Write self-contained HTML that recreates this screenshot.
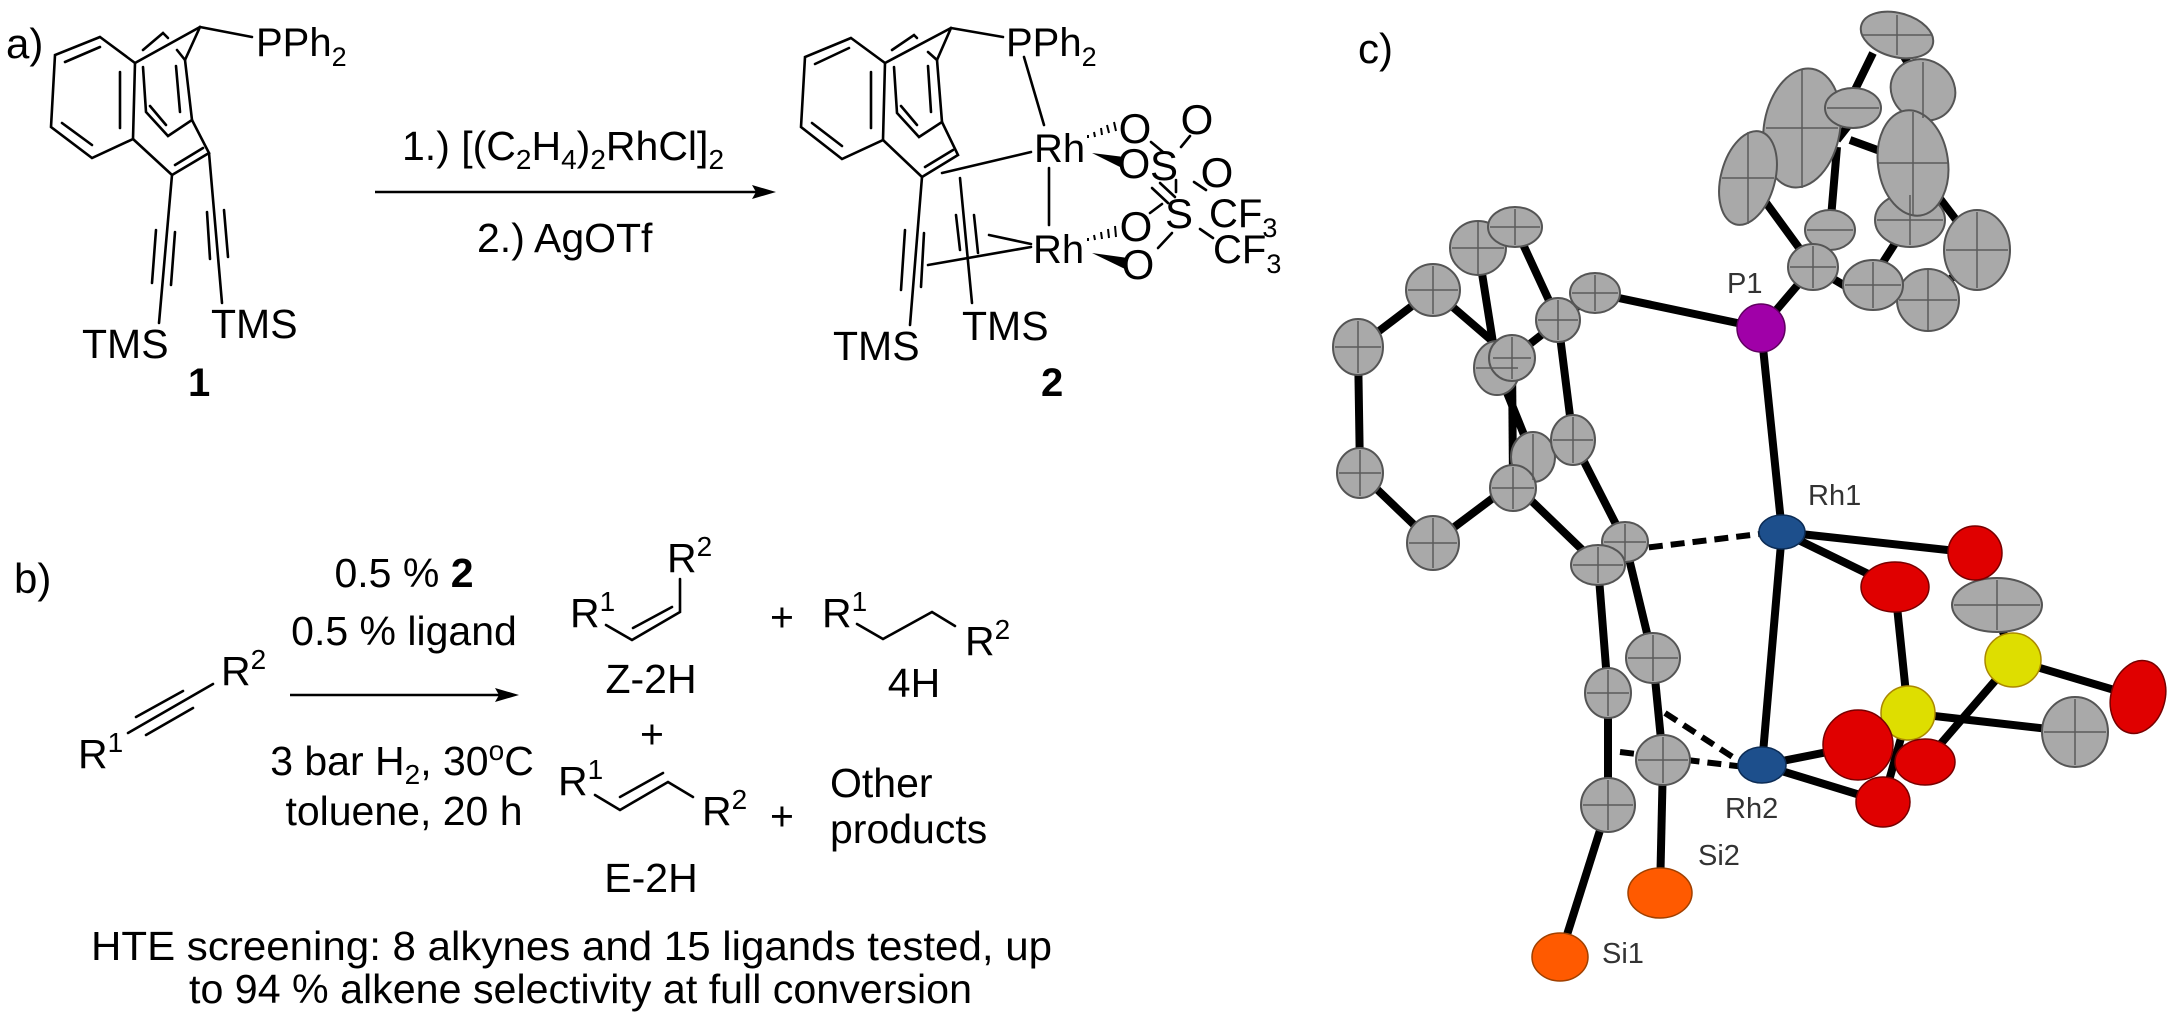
<!DOCTYPE html>
<html><head><meta charset="utf-8">
<style>
html,body{margin:0;padding:0;background:#fff;}
svg{display:block;}
text{font-family:"Liberation Sans",Arial,sans-serif;fill:#000;}
.b{stroke:#000;stroke-width:2.6;fill:none;stroke-linecap:round;}
.ob{stroke:#000;stroke-width:8;fill:none;}
.g{fill:#a9a9a9;stroke:#555;stroke-width:2;}
.x{stroke:#5a5a5a;stroke-width:1.5;fill:none;}
.red{fill:#e00000;stroke:#700;stroke-width:1.5;}
.yel{fill:#dede00;stroke:#aa8800;stroke-width:1.5;}
.org{fill:#ff5a00;stroke:#a04000;stroke-width:1.5;}
.blu{fill:#1d4f8c;stroke:#0c2c55;stroke-width:1.5;}
.lab{font-size:29px;fill:#333;}
</style></head>
<body>
<svg width="2176" height="1018" viewBox="0 0 2176 1018" xmlns="http://www.w3.org/2000/svg">
<text x="6" y="58" font-size="42">a)</text>
<g class="b">
<polyline points="100,37 55,55 51,127 92,158 133,139 135,63 100,37"/>
<line x1="65" y1="62" x2="100" y2="47"/>
<line x1="120" y1="72" x2="120" y2="128"/>
<line x1="62" y1="123" x2="92" y2="145"/>
<line x1="135" y1="63" x2="200" y2="27"/>
<polyline points="200,27 185,60 192,120 168,136 146,112 143,67"/>
<polyline points="143,50 163,33 168,38"/>
<line x1="177" y1="50" x2="185" y2="60"/>
<line x1="176" y1="66" x2="180" y2="112"/>
<line x1="150" y1="106" x2="166" y2="125"/>
<line x1="200" y1="27" x2="252" y2="37"/>
<polyline points="133,139 172,175 209,153 192,120"/>
<line x1="175" y1="165" x2="203" y2="148"/>
<line x1="172" y1="175" x2="159" y2="323"/>
<line x1="156" y1="230" x2="152" y2="283"/>
<line x1="175" y1="232" x2="171" y2="285"/>
<line x1="209" y1="153" x2="222" y2="303"/>
<line x1="207" y1="212" x2="210" y2="259"/>
<line x1="224" y1="210" x2="228" y2="257"/>
</g>
<text x="256" y="56" font-size="40">PPh<tspan font-size="27" dy="10">2</tspan></text>
<text x="82" y="358" font-size="41">TMS</text>
<text x="211" y="338" font-size="41">TMS</text>
<text x="188" y="396" font-size="40" font-weight="bold">1</text>

<text x="402" y="160" font-size="41">1.) [(C<tspan font-size="28" dy="9">2</tspan><tspan dy="-9">H</tspan><tspan font-size="28" dy="9">4</tspan><tspan dy="-9">)</tspan><tspan font-size="28" dy="9">2</tspan><tspan dy="-9">RhCl]</tspan><tspan font-size="28" dy="9">2</tspan></text>
<line x1="375" y1="192" x2="758" y2="192" stroke="#000" stroke-width="2.6"/>
<polygon points="776,192 752,185 756,192 752,199" fill="#000"/>
<text x="477" y="252" font-size="41">2.) AgOTf</text>

<g class="b">
<polyline points="851,38 805,57 801,127 842,159 883,140 885,63 851,38"/>
<line x1="815" y1="64" x2="849" y2="48"/>
<line x1="871" y1="72" x2="871" y2="128"/>
<line x1="812" y1="123" x2="842" y2="146"/>
<line x1="885" y1="63" x2="951" y2="28"/>
<polyline points="951,28 937,60 942,122 919,137 897,113 894,67"/>
<polyline points="892,50 914,35 917,38"/>
<line x1="928" y1="52" x2="937" y2="60"/>
<line x1="928" y1="66" x2="931" y2="112"/>
<line x1="901" y1="106" x2="917" y2="125"/>
<line x1="951" y1="28" x2="1003" y2="37"/>
<polyline points="883,140 922,177 958,155 942,122"/>
<line x1="925" y1="167" x2="953" y2="150"/>
<line x1="942" y1="173" x2="1031" y2="152"/>
<line x1="1024" y1="57" x2="1044" y2="125"/>
<line x1="1049" y1="168" x2="1049" y2="225"/>
<line x1="922" y1="177" x2="910" y2="325"/>
<line x1="905" y1="230" x2="901" y2="290"/>
<line x1="924" y1="233" x2="921" y2="287"/>
<line x1="960" y1="178" x2="972" y2="303"/>
<line x1="956" y1="215" x2="960" y2="250"/>
<line x1="974" y1="215" x2="978" y2="253"/>
<line x1="928" y1="265" x2="1031" y2="247"/>
<line x1="989" y1="235" x2="1031" y2="244"/>
<line x1="1151" y1="142" x2="1163" y2="152"/>
<line x1="1181" y1="147" x2="1190" y2="136"/>
<line x1="1194" y1="182" x2="1206" y2="190"/>
<line x1="1152" y1="188" x2="1168" y2="203"/>
<line x1="1160" y1="183" x2="1175" y2="197"/>
<line x1="1150" y1="213" x2="1162" y2="204"/>
<line x1="1158" y1="248" x2="1172" y2="233"/>
<line x1="1200" y1="229" x2="1213" y2="238"/>
<line x1="1176" y1="180" x2="1176" y2="192"/>
</g>
<g stroke="#000" stroke-width="2">
<line x1="1088" y1="138" x2="1088" y2="135"/>
<line x1="1095" y1="137" x2="1094" y2="132"/>
<line x1="1102" y1="135" x2="1101" y2="128"/>
<line x1="1109" y1="133" x2="1107" y2="125"/>
<line x1="1116" y1="131" x2="1114" y2="122"/>
<line x1="1088" y1="241" x2="1088" y2="238"/>
<line x1="1095" y1="240" x2="1094" y2="235"/>
<line x1="1102" y1="239" x2="1101" y2="232"/>
<line x1="1109" y1="238" x2="1108" y2="229"/>
<line x1="1116" y1="237" x2="1115" y2="226"/>
</g>
<polygon points="1092,153 1124,157 1122,168" fill="#000"/>
<polygon points="1092,253 1128,258 1125,269" fill="#000"/>
<text x="1006" y="56" font-size="40">PPh<tspan font-size="27" dy="10">2</tspan></text>
<text x="1034" y="162" font-size="40">Rh</text>
<text x="1033" y="263" font-size="40">Rh</text>
<g font-size="42" text-anchor="middle">
<text x="1135" y="143">O</text>
<text x="1134" y="178">O</text>
<text x="1164" y="180">S</text>
<text x="1197" y="134">O</text>
<text x="1217" y="187">O</text>
<text x="1179" y="228">S</text>
<text x="1136" y="241">O</text>
<text x="1138" y="279">O</text>
</g>
<text x="1209" y="227" font-size="40">CF<tspan font-size="27" dy="10">3</tspan></text>
<text x="1213" y="263" font-size="40">CF<tspan font-size="27" dy="10">3</tspan></text>
<text x="833" y="360" font-size="41">TMS</text>
<text x="962" y="340" font-size="41">TMS</text>
<text x="1041" y="396" font-size="40" font-weight="bold">2</text>

<text x="14" y="593" font-size="42">b)</text>
<text x="404" y="587" font-size="41" text-anchor="middle">0.5 % <tspan font-weight="bold">2</tspan></text>
<text x="404" y="645" font-size="41" text-anchor="middle">0.5 % ligand</text>
<line x1="290" y1="695" x2="502" y2="695" stroke="#000" stroke-width="2.6"/>
<polygon points="519,695 495,688 499,695 495,702" fill="#000"/>
<text x="402" y="775" font-size="41" text-anchor="middle">3 bar H<tspan font-size="28" dy="9">2</tspan><tspan dy="-9">, 30</tspan><tspan font-size="28" dy="-15">o</tspan><tspan dy="15">C</tspan></text>
<text x="404" y="825" font-size="41" text-anchor="middle">toluene, 20 h</text>

<g class="b">
<line x1="128" y1="733" x2="213" y2="684"/>
<line x1="136" y1="717" x2="183" y2="691"/>
<line x1="146" y1="735" x2="193" y2="708"/>
<polyline points="606,625 632,640 680,612 680,579"/>
<line x1="633" y1="628" x2="672" y2="607"/>
<polyline points="857,624 883,639 932,612 955,626"/>
<polyline points="595,795 620,810 668,782 693,797"/>
<line x1="620" y1="797" x2="663" y2="773"/>
</g>
<text x="78" y="768" font-size="41">R<tspan font-size="28" dy="-16">1</tspan></text>
<text x="221" y="685" font-size="41">R<tspan font-size="28" dy="-16">2</tspan></text>
<text x="570" y="627" font-size="41">R<tspan font-size="28" dy="-16">1</tspan></text>
<text x="667" y="572" font-size="41">R<tspan font-size="28" dy="-16">2</tspan></text>
<text x="651" y="693" font-size="41" text-anchor="middle">Z-2H</text>
<text x="782" y="631" font-size="41" text-anchor="middle">+</text>
<text x="822" y="627" font-size="41">R<tspan font-size="28" dy="-16">1</tspan></text>
<text x="965" y="655" font-size="41">R<tspan font-size="28" dy="-16">2</tspan></text>
<text x="914" y="697" font-size="41" text-anchor="middle">4H</text>
<text x="652" y="748" font-size="41" text-anchor="middle">+</text>
<text x="558" y="795" font-size="41">R<tspan font-size="28" dy="-16">1</tspan></text>
<text x="702" y="825" font-size="41">R<tspan font-size="28" dy="-16">2</tspan></text>
<text x="782" y="830" font-size="41" text-anchor="middle">+</text>
<text x="830" y="797" font-size="41">Other</text>
<text x="830" y="843" font-size="41">products</text>
<text x="651" y="892" font-size="41" text-anchor="middle">E-2H</text>
<text x="91" y="960" font-size="41" textLength="961" lengthAdjust="spacingAndGlyphs">HTE screening: 8 alkynes and 15 ligands tested, up</text>
<text x="189" y="1003" font-size="41" textLength="783" lengthAdjust="spacingAndGlyphs">to 94 % alkene selectivity at full conversion</text>

<text x="1358" y="63" font-size="42">c)</text>
<g class="ob">
<line x1="1358" y1="347" x2="1433" y2="290"/>
<line x1="1433" y1="290" x2="1512" y2="358"/>
<line x1="1512" y1="358" x2="1513" y2="483"/>
<line x1="1513" y1="483" x2="1433" y2="543"/>
<line x1="1433" y1="543" x2="1360" y2="473"/>
<line x1="1360" y1="473" x2="1358" y2="347"/>
<line x1="1478" y1="248" x2="1497" y2="368"/>
<line x1="1515" y1="227" x2="1558" y2="320"/>
<line x1="1512" y1="358" x2="1595" y2="293"/>
<line x1="1558" y1="320" x2="1573" y2="440"/>
<line x1="1573" y1="440" x2="1625" y2="542"/>
<line x1="1513" y1="483" x2="1598" y2="565"/>
<line x1="1497" y1="368" x2="1533" y2="457"/>
<line x1="1595" y1="293" x2="1761" y2="328"/>
<line x1="1761" y1="328" x2="1813" y2="267"/>
<line x1="1761" y1="328" x2="1782" y2="532"/>
<line x1="1748" y1="178" x2="1813" y2="267"/>
<line x1="1813" y1="267" x2="1852" y2="290"/>
<line x1="1830" y1="230" x2="1837" y2="147"/>
<line x1="1837" y1="140" x2="1863" y2="107"/>
<line x1="1873" y1="53" x2="1850" y2="100"/>
<line x1="1897" y1="45" x2="1915" y2="75"/>
<line x1="1850" y1="140" x2="1913" y2="163"/>
<line x1="1913" y1="163" x2="1960" y2="225"/>
<line x1="1910" y1="220" x2="1878" y2="270"/>
<line x1="1852" y1="285" x2="1895" y2="292"/>
<line x1="1928" y1="300" x2="1955" y2="275"/>
<line x1="1598" y1="565" x2="1608" y2="693"/>
<line x1="1625" y1="542" x2="1653" y2="658"/>
<line x1="1653" y1="658" x2="1663" y2="760"/>
<line x1="1608" y1="693" x2="1608" y2="805"/>
<line x1="1608" y1="805" x2="1560" y2="957"/>
<line x1="1663" y1="760" x2="1660" y2="893"/>
<line x1="1782" y1="532" x2="1762" y2="765"/>
<line x1="1782" y1="532" x2="1975" y2="553"/>
<line x1="1782" y1="532" x2="1895" y2="587"/>
<line x1="1762" y1="765" x2="1873" y2="743"/>
<line x1="1762" y1="765" x2="1883" y2="802"/>
<line x1="1895" y1="587" x2="1908" y2="713"/>
<line x1="1975" y1="553" x2="2013" y2="660"/>
<line x1="2013" y1="660" x2="2138" y2="697"/>
<line x1="2013" y1="660" x2="1925" y2="762"/>
<line x1="1908" y1="713" x2="2075" y2="732"/>
<line x1="1908" y1="713" x2="1883" y2="802"/>
</g>
<g stroke="#000" stroke-width="6" stroke-dasharray="14,8" fill="none">
<line x1="1627" y1="550" x2="1768" y2="533"/>
<line x1="1665" y1="713" x2="1745" y2="765"/>
<line x1="1620" y1="752" x2="1745" y2="767"/>
</g>
<g>
<ellipse class="g" cx="1802" cy="128" rx="38" ry="60" transform="rotate(10 1802 128)"/>
<ellipse class="g" cx="1748" cy="178" rx="27" ry="48" transform="rotate(15 1748 178)"/>
<ellipse class="g" cx="1897" cy="35" rx="37" ry="22" transform="rotate(15 1897 35)"/>
<ellipse class="g" cx="1853" cy="108" rx="28" ry="20"/>
<ellipse class="g" cx="1923" cy="90" rx="33" ry="30" transform="rotate(30 1923 90)"/>
<ellipse class="g" cx="1910" cy="220" rx="35" ry="27"/>
<ellipse class="g" cx="1913" cy="163" rx="35" ry="53" transform="rotate(-8 1913 163)"/>
<ellipse class="g" cx="1977" cy="250" rx="33" ry="40"/>
<ellipse class="g" cx="1928" cy="300" rx="31" ry="31"/>
<ellipse class="g" cx="1873" cy="285" rx="30" ry="25"/>
<ellipse class="g" cx="1830" cy="230" rx="25" ry="20"/>
<ellipse class="g" cx="1813" cy="267" rx="25" ry="23"/>
<ellipse class="g" cx="1595" cy="293" rx="25" ry="20"/>
<ellipse class="g" cx="1558" cy="320" rx="22" ry="22"/>
<ellipse class="g" cx="1478" cy="248" rx="28" ry="27"/>
<ellipse class="g" cx="1515" cy="227" rx="27" ry="20"/>
<ellipse class="g" cx="1433" cy="290" rx="27" ry="26"/>
<ellipse class="g" cx="1358" cy="347" rx="25" ry="28"/>
<ellipse class="g" cx="1497" cy="368" rx="23" ry="27"/>
<ellipse class="g" cx="1512" cy="358" rx="23" ry="23"/>
<ellipse class="g" cx="1533" cy="457" rx="22" ry="25"/>
<ellipse class="g" cx="1573" cy="440" rx="22" ry="25"/>
<ellipse class="g" cx="1513" cy="488" rx="23" ry="23"/>
<ellipse class="g" cx="1360" cy="473" rx="23" ry="25"/>
<ellipse class="g" cx="1433" cy="543" rx="26" ry="27"/>
<ellipse class="g" cx="1625" cy="542" rx="23" ry="20"/>
<ellipse class="g" cx="1598" cy="565" rx="27" ry="20"/>
<ellipse class="g" cx="1653" cy="658" rx="27" ry="25"/>
<ellipse class="g" cx="1608" cy="693" rx="23" ry="25"/>
<ellipse class="g" cx="1663" cy="760" rx="27" ry="25"/>
<ellipse class="g" cx="1608" cy="805" rx="27" ry="27"/>
<ellipse class="g" cx="1997" cy="605" rx="45" ry="27"/>
<ellipse class="g" cx="2075" cy="732" rx="33" ry="35"/>
</g>
<g class="x">
<path d="M1766 128h72M1802 70v118M1722 178h52M1748 132v92M1862 35h70M1897 15v40M1827 108h52M1923 62v56M1878 163h70M1913 112v104M1877 220h66M1910 195v50M1946 250h62M1977 212v76M1899 300h58M1928 270v60M1845 285h56M1873 262v46M1807 230h46M1813 246v42M1790 267h46"/>
<path d="M1572 293h46M1595 275v36M1538 320h40M1558 300v40M1452 248h52M1478 222v52M1490 227h50M1515 209v36M1408 290h50M1433 266v48M1335 347h46M1358 321v52M1476 368h42M1512 337v42M1493 358h38M1533 434v46M1553 440h40M1573 417v46M1492 488h42M1513 467v42M1339 473h42M1360 450v46M1409 543h48M1433 518v50"/>
<path d="M1604 542h42M1625 524v36M1573 565h50M1598 547v36M1628 658h50M1653 635v46M1587 693h42M1608 670v46M1638 760h50M1663 737v46M1583 805h50M1608 780v50M1954 605h86M1997 580v50M2044 732h62M2075 699v66"/>
</g>
<ellipse class="blu" cx="1782" cy="532" rx="23" ry="17"/>
<ellipse class="blu" cx="1762" cy="765" rx="24" ry="18"/>
<circle cx="1761" cy="328" r="24" fill="#a000a8" stroke="#600060" stroke-width="1.5"/>
<ellipse class="org" cx="1660" cy="893" rx="32" ry="25"/>
<ellipse class="org" cx="1560" cy="957" rx="28" ry="24"/>
<ellipse class="red" cx="1975" cy="553" rx="27" ry="27"/>
<ellipse class="red" cx="1895" cy="587" rx="34" ry="25"/>
<ellipse class="yel" cx="2013" cy="660" rx="28" ry="27"/>
<ellipse class="red" cx="2138" cy="697" rx="27" ry="37" transform="rotate(15 2138 697)"/>
<ellipse class="yel" cx="1908" cy="713" rx="27" ry="27"/>
<ellipse class="red" cx="1925" cy="762" rx="30" ry="23"/>
<ellipse class="red" cx="1883" cy="802" rx="27" ry="25"/>
<ellipse class="red" cx="1858" cy="745" rx="35" ry="35"/>
<text class="lab" x="1727" y="293">P1</text>
<text class="lab" x="1808" y="505">Rh1</text>
<text class="lab" x="1725" y="818">Rh2</text>
<text class="lab" x="1698" y="865">Si2</text>
<text class="lab" x="1602" y="963">Si1</text>
</svg>
</body></html>
